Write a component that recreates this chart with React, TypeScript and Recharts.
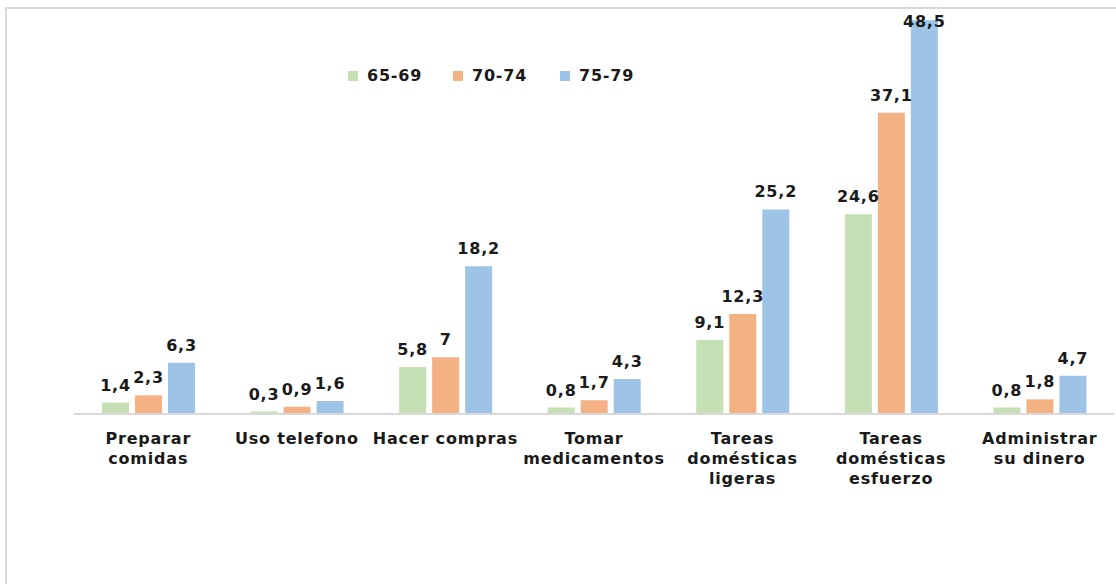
import { BarChart, Bar, XAxis, YAxis, LabelList } from 'recharts';

const categories = [
  'Preparar\ncomidas',
  'Uso telefono',
  'Hacer compras',
  'Tomar\nmedicamentos',
  'Tareas\ndomésticas\nligeras',
  'Tareas\ndomésticas\nesfuerzo',
  'Administrar\nsu dinero',
];
const seriesNames = ['65-69', '70-74', '75-79'];
const edad6569 = [1.4, 0.3, 5.8, 0.8, 9.1, 24.6, 0.8];
const edad7074 = [2.3, 0.9, 7, 1.7, 12.3, 37.1, 1.8];
const edad7579 = [6.3, 1.6, 18.2, 4.3, 25.2, 48.5, 4.7];
const colors = ['#c5e0b4', '#f4b183', '#9dc3e6'];

const data = categories.map((c, i) => ({
  cat: c,
  a: edad6569[i],
  b: edad7074[i],
  c: edad7579[i],
}));

const FONT = '"DejaVu Sans", Verdana, sans-serif';

const CatTick = (props: any) => {
  const { x, y, payload } = props;
  const lines = String(payload.value).split('\n');
  return (
    <text
      x={x}
      y={y}
      textAnchor="middle"
      fontFamily={FONT}
      fontSize={16}
      fontWeight="bold"
      letterSpacing={0.8}
      fill="#1a1a1a"
    >
      {lines.map((l, i) => (
        <tspan key={i} x={x} dy={i === 0 ? 30 : 20}>
          {l}
        </tspan>
      ))}
    </text>
  );
};

const ValueLabel = (props: any) => {
  const { x, y, width, value } = props;
  const ty = Math.max(y - 12, 27);
  return (
    <text
      x={x + width / 2}
      y={ty}
      textAnchor="middle"
      fontFamily={FONT}
      fontSize={16}
      fontWeight="bold"
      letterSpacing={0.8}
      fill="#1a1a1a"
    >
      {String(value).replace('.', ',')}
    </text>
  );
};

const legendPos = [348, 453, 560];

export default function App() {
  return (
    <div style={{ position: 'absolute', left: 0, top: 0, width: 1116, height: 584, overflow: 'hidden', background: '#fff' }}>
      <div
        style={{
          position: 'absolute',
          left: 5,
          top: 7,
          width: 1120,
          height: 600,
          border: '2px solid #d9d9d9',
          boxSizing: 'border-box',
        }}
      />
      <div style={{ position: 'absolute', left: 0, top: 0 }}>
        <BarChart
          width={1116}
          height={584}
          data={data}
          margin={{ top: 8, right: 2, left: 74, bottom: 110 }}
          barSize={27}
          barGap={6}
        >
          <XAxis
            dataKey="cat"
            height={60}
            tickLine={false}
            tickSize={0}
            tickMargin={0}
            axisLine={{ stroke: '#d9d9d9', strokeWidth: 2 }}
            tick={<CatTick />}
            interval={0}
          />
          <YAxis hide domain={[0, 50]} />
          {['a', 'b', 'c'].map((k, i) => (
            <Bar key={k} dataKey={k} name={seriesNames[i]} fill={colors[i]} isAnimationActive={false}>
              <LabelList dataKey={k} content={<ValueLabel />} />
            </Bar>
          ))}
        </BarChart>
      </div>
      {seriesNames.map((n, i) => (
        <div
          key={n}
          style={{
            position: 'absolute',
            left: legendPos[i],
            top: 66,
            display: 'flex',
            alignItems: 'center',
            fontFamily: FONT,
            fontSize: 16,
            fontWeight: 'bold',
            letterSpacing: 0.8,
            color: '#1a1a1a',
          }}
        >
          <span style={{ width: 10, height: 10, background: colors[i], display: 'inline-block', marginRight: 9 }} />
          {n}
        </div>
      ))}
    </div>
  );
}
